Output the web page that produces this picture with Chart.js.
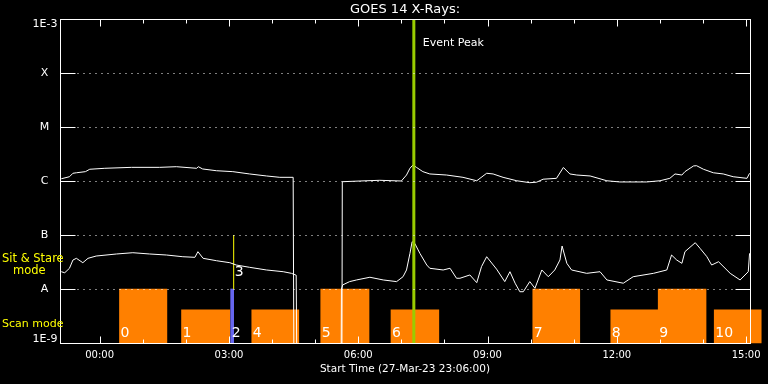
<!DOCTYPE html>
<html>
<head>
<meta charset="utf-8">
<script src="https://cdn.jsdelivr.net/npm/chart.js@4/dist/chart.umd.min.js"></script>
<style>
  body { margin: 0; background: #000; }
</style>
</head>
<body>
<canvas id="goes" width="768" height="384"></canvas>
<script>
// hours since 00:00 (start of plot is 23:06 the day before)
const upperHours = [-0.89, -0.70, -0.62, -0.54, -0.33, -0.23, 0.12, 0.74, 1.39, 1.78,
  2.25, 2.29, 2.39, 2.71, 3.09, 3.48, 3.87, 4.18, 4.49, 4.51,
  5.62, 5.63, 6.04, 6.50, 7.00, 7.12, 7.20, 7.27, 7.35, 7.50,
  7.66, 8.05, 8.43, 8.75, 8.98, 9.13, 9.36, 9.68, 9.98, 10.14,
  10.29, 10.60, 10.76, 10.91, 11.07, 11.38, 11.77, 12.07, 12.69, 13.00,
  13.23, 13.35, 13.51, 13.58, 13.78, 13.85, 14.01, 14.24, 14.47, 14.70,
  15.02, 15.08];
const upperFlux = [1.10e-6, 1.20e-6, 1.39e-6, 1.42e-6, 1.49e-6, 1.65e-6, 1.72e-6, 1.79e-6, 1.79e-6, 1.84e-6,
  1.72e-6, 1.84e-6, 1.67e-6, 1.55e-6, 1.49e-6, 1.35e-6, 1.24e-6, 1.17e-6, 1.17e-6, 1e-10,
  1e-10, 0.97e-6, 1.00e-6, 1.03e-6, 1.00e-6, 1.29e-6, 1.72e-6, 1.98e-6, 1.79e-6, 1.49e-6,
  1.35e-6, 1.29e-6, 1.17e-6, 1.01e-6, 1.39e-6, 1.35e-6, 1.17e-6, 1.01e-6, 0.93e-6, 0.95e-6,
  1.08e-6, 1.12e-6, 1.78e-6, 1.35e-6, 1.29e-6, 1.24e-6, 1.01e-6, 0.96e-6, 0.96e-6, 1.01e-6,
  1.12e-6, 1.35e-6, 1.29e-6, 1.49e-6, 1.90e-6, 1.92e-6, 1.65e-6, 1.42e-6, 1.35e-6, 1.20e-6,
  1.12e-6, 1.39e-6];

const lowerHours = [-0.89, -0.81, -0.70, -0.62, -0.54, -0.39, -0.27, -0.08, 0.39, 0.77,
  1.16, 1.55, 1.93, 2.21, 2.28, 2.40, 2.71, 3.02, 3.17, 3.48,
  3.87, 4.26, 4.45, 4.56, 4.58, 5.60, 5.61, 5.64, 5.80, 5.96,
  6.27, 6.58, 6.89, 7.04, 7.12, 7.20, 7.25, 7.31, 7.43, 7.59,
  7.66, 7.97, 8.13, 8.28, 8.36, 8.59, 8.75, 8.86, 8.98, 9.21,
  9.40, 9.52, 9.64, 9.75, 9.83, 9.98, 10.10, 10.26, 10.41, 10.56,
  10.68, 10.73, 10.84, 10.95, 11.30, 11.61, 11.77, 12.15, 12.38, 12.85,
  13.16, 13.27, 13.39, 13.51, 13.58, 13.82, 13.93, 14.09, 14.20, 14.36,
  14.63, 14.86, 15.05, 15.08];
const lowerFlux = [2.09e-8, 2.00e-8, 2.42e-8, 3.44e-8, 3.70e-8, 3.07e-8, 3.70e-8, 4.08e-8, 4.45e-8, 4.70e-8,
  4.45e-8, 4.26e-8, 3.96e-8, 3.86e-8, 4.91e-8, 3.70e-8, 3.34e-8, 3.07e-8, 2.78e-8, 2.52e-8,
  2.25e-8, 2.09e-8, 1.95e-8, 1.80e-8, 1e-10, 1e-10, 1.00e-8, 1.19e-8, 1.37e-8, 1.47e-8,
  1.65e-8, 1.47e-8, 1.37e-8, 1.69e-8, 2.25e-8, 4.58e-8, 7.51e-8, 7.02e-8, 4.58e-8, 2.78e-8,
  2.42e-8, 2.25e-8, 2.42e-8, 1.58e-8, 1.58e-8, 1.82e-8, 1.31e-8, 2.59e-8, 3.96e-8, 2.33e-8,
  1.37e-8, 2.09e-8, 1.28e-8, 0.89e-8, 0.89e-8, 1.37e-8, 1.03e-8, 2.25e-8, 1.69e-8, 2.25e-8,
  3.44e-8, 6.25e-8, 2.99e-8, 2.25e-8, 1.95e-8, 2.09e-8, 1.47e-8, 1.28e-8, 1.69e-8, 1.95e-8,
  2.25e-8, 4.26e-8, 3.44e-8, 2.99e-8, 4.91e-8, 7.20e-8, 5.67e-8, 3.96e-8, 2.78e-8, 3.20e-8,
  1.95e-8, 1.47e-8, 2.09e-8, 4.58e-8];

// scan mode rasters
const scanLabels = ['0', '1', '4', '5', '6', '7', '8', '9', '10'];
const scanStart = [0.46, 1.90, 3.53, 5.13, 6.76, 10.05, 11.86, 12.96, 14.26];
const scanEnd = [1.56, 3.02, 4.62, 6.25, 7.87, 11.14, 12.96, 14.07, 15.35];
const scanTop = [1e-8, 4.1e-9, 4.1e-9, 1e-8, 4.1e-9, 1e-8, 4.1e-9, 1e-8, 4.1e-9];

// short raster 2 and sit & stare 3
const shortLabel = '2';
const shortStart = 3.04;
const shortEnd = 3.11;
const sitLabel = '3';
const sitHour = 3.11;
const sitRange = [1e-8, 1e-7];

const eventHour = 7.29;

const xTickHours = [0, 3, 6, 9, 12, 15];
const xTickLabels = ['00:00', '03:00', '06:00', '09:00', '12:00', '15:00'];
const yTickValues = [1e-9, 1e-8, 1e-7, 1e-6, 1e-5, 1e-4, 1e-3];
const yTickLabels = ['1E-9', 'A', 'B', 'C', 'M', 'X', '1E-3'];

const FONT = '"DejaVu Sans", sans-serif';
const ORANGE = '#ff8000';

function pts(hours, vals) {
    return hours.map((h, i) => ({ x: h, y: vals[i] }));
}

function widthOf(s, e) {
    return ctx => {
        const xs = ctx.chart.scales.x;
        return xs.getPixelForValue(e) - xs.getPixelForValue(s);
    };
}

const datasets = [];

// --- green event line ---
datasets.push({
    type: 'line', order: 0,
    data: [{ x: eventHour, y: 1e-9 }, { x: eventHour, y: 1e-3 }],
    borderColor: '#99cc00', borderWidth: 3, pointRadius: 0
});

// --- curves ---
datasets.push({
    type: 'line', order: 1, data: pts(upperHours, upperFlux),
    borderColor: '#fff', borderWidth: 1, pointRadius: 0, tension: 0
});
datasets.push({
    type: 'line', order: 1, data: pts(lowerHours, lowerFlux),
    borderColor: '#fff', borderWidth: 1, pointRadius: 0, tension: 0
});

// --- sit & stare (yellow) ---
datasets.push({
    type: 'line', order: 2,
    data: [{ x: sitHour, y: sitRange[0] }, { x: sitHour, y: sitRange[1] }],
    borderColor: '#ffff00', borderWidth: 1, pointRadius: 0
});

// --- short raster (blue) ---
datasets.push({
    type: 'bar', order: 3, grouped: false,
    data: [{ x: (shortStart + shortEnd) / 2, y: [1e-9, 1e-8] }],
    backgroundColor: '#6666ee', borderWidth: 0,
    barThickness: widthOf(shortStart, shortEnd)
});

// --- scan blocks (orange) ---
scanLabels.forEach((lab, i) => {
    datasets.push({
        type: 'bar', order: 4, grouped: false, clip: false,
        data: [{ x: (scanStart[i] + scanEnd[i]) / 2, y: [1e-9, scanTop[i]] }],
        backgroundColor: ORANGE, borderWidth: 0,
        barThickness: widthOf(scanStart[i], scanEnd[i])
    });
});

const framePlugin = {
    id: 'frame',
    afterDraw(chart) {
        const { ctx, chartArea: a, scales: { x, y } } = chart;
        const L = Math.round(a.left) + 0.5, R = Math.round(a.right) + 0.5;
        const T = Math.round(a.top) + 0.5, B = Math.round(a.bottom) + 0.5;
        ctx.save();
        ctx.strokeStyle = '#fff';
        ctx.lineWidth = 1;
        ctx.strokeRect(L, T, R - L, B - T);

        // decade ticks + dotted lines
        yTickValues.slice(1, -1).forEach(v => {
            const yy = Math.round(y.getPixelForValue(v)) + 0.5;
            ctx.setLineDash([]);
            ctx.beginPath();
            ctx.moveTo(L, yy); ctx.lineTo(L + 15, yy);
            ctx.moveTo(R - 15, yy); ctx.lineTo(R, yy);
            ctx.stroke();
            ctx.setLineDash([1, 5]);
            ctx.beginPath();
            ctx.moveTo(L + 17, yy); ctx.lineTo(R - 15, yy);
            ctx.stroke();
        });
        ctx.setLineDash([]);

        // hour ticks top and bottom
        for (let h = Math.ceil(x.min); h <= Math.floor(x.max); h++) {
            const xx = Math.round(x.getPixelForValue(h)) + 0.5;
            const len = h % 3 === 0 ? 7 : 4;
            ctx.beginPath();
            ctx.moveTo(xx, B); ctx.lineTo(xx, B - len);
            ctx.moveTo(xx, T); ctx.lineTo(xx, T + len);
            ctx.stroke();
        }

        // y labels
        ctx.fillStyle = '#fff';
        ctx.font = '11px ' + FONT;
        yTickValues.forEach((v, i) => {
            const yy = y.getPixelForValue(v);
            if (i === yTickValues.length - 1) {
                ctx.textAlign = 'right'; ctx.textBaseline = 'top';
                ctx.fillText(yTickLabels[i], L - 3, yy);
            } else if (i === 0) {
                ctx.textAlign = 'right'; ctx.textBaseline = 'bottom';
                ctx.fillText(yTickLabels[i], L - 3, yy + 2);
            } else {
                ctx.textAlign = 'center'; ctx.textBaseline = 'middle';
                ctx.fillText(yTickLabels[i], L - 16, yy);
            }
        });

        // block numbers
        ctx.font = '14px ' + FONT;
        ctx.textAlign = 'left';
        ctx.textBaseline = 'middle';
        scanLabels.forEach((lab, i) => {
            ctx.fillText(lab, x.getPixelForValue(scanStart[i]) + 1, B - 10);
        });
        ctx.fillText(shortLabel, x.getPixelForValue(shortStart) + 1, B - 10);
        ctx.fillText(sitLabel, x.getPixelForValue(sitHour) + 1, y.getPixelForValue(sitRange[0]) - 17);

        // event label
        ctx.font = '11px ' + FONT;
        ctx.fillText('Event Peak', x.getPixelForValue(eventHour) + 9, T + 24);

        // mode legend on the left
        ctx.fillStyle = '#ffff00';
        ctx.font = '11.5px ' + FONT;
        ctx.fillText('Sit & Stare', 2, 259);
        ctx.fillText('mode', 13, 271);
        ctx.font = '11px ' + FONT;
        ctx.fillText('Scan mode', 2, 324);
        ctx.restore();
    }
};

new Chart(document.getElementById('goes'), {
    type: 'line',
    data: { datasets },
    options: {
        responsive: false,
        animation: false,
        layout: { padding: { left: 0, right: 18, top: 0, bottom: 0 } },
        plugins: {
            legend: { display: false },
            tooltip: { enabled: false },
            title: {
                display: true, fullSize: false,
                text: 'GOES 14 X-Rays:', color: '#fff',
                font: { family: FONT, size: 13, weight: 'normal', lineHeight: 1 },
                padding: { top: 3, bottom: 3 }
            }
        },
        scales: {
            x: {
                type: 'linear', min: -0.92, max: 15.09, offset: false,
                grid: { display: false, drawTicks: false },
                border: { display: false },
                afterBuildTicks: s => { s.ticks = xTickHours.map(v => ({ value: v })); },
                ticks: {
                    autoSkip: false, maxRotation: 0,
                    color: '#fff', padding: 6,
                    font: { family: FONT, size: 10 },
                    callback: v => {
                        const i = xTickHours.indexOf(v);
                        return i < 0 ? '' : xTickLabels[i];
                    }
                },
                title: {
                    display: true, text: 'Start Time (27-Mar-23 23:06:00)', color: '#fff',
                    font: { family: FONT, size: 10.5 },
                    padding: { top: 0, bottom: 8 }
                },
                afterFit: s => { s.height = 41; }
            },
            y: {
                type: 'logarithmic', min: 1e-9, max: 1e-3,
                grid: { display: false, drawTicks: false },
                border: { display: false },
                ticks: { display: false },
                afterFit: s => { s.width = 60; }
            }
        }
    },
    plugins: [framePlugin]
});
</script>
</body>
</html>
